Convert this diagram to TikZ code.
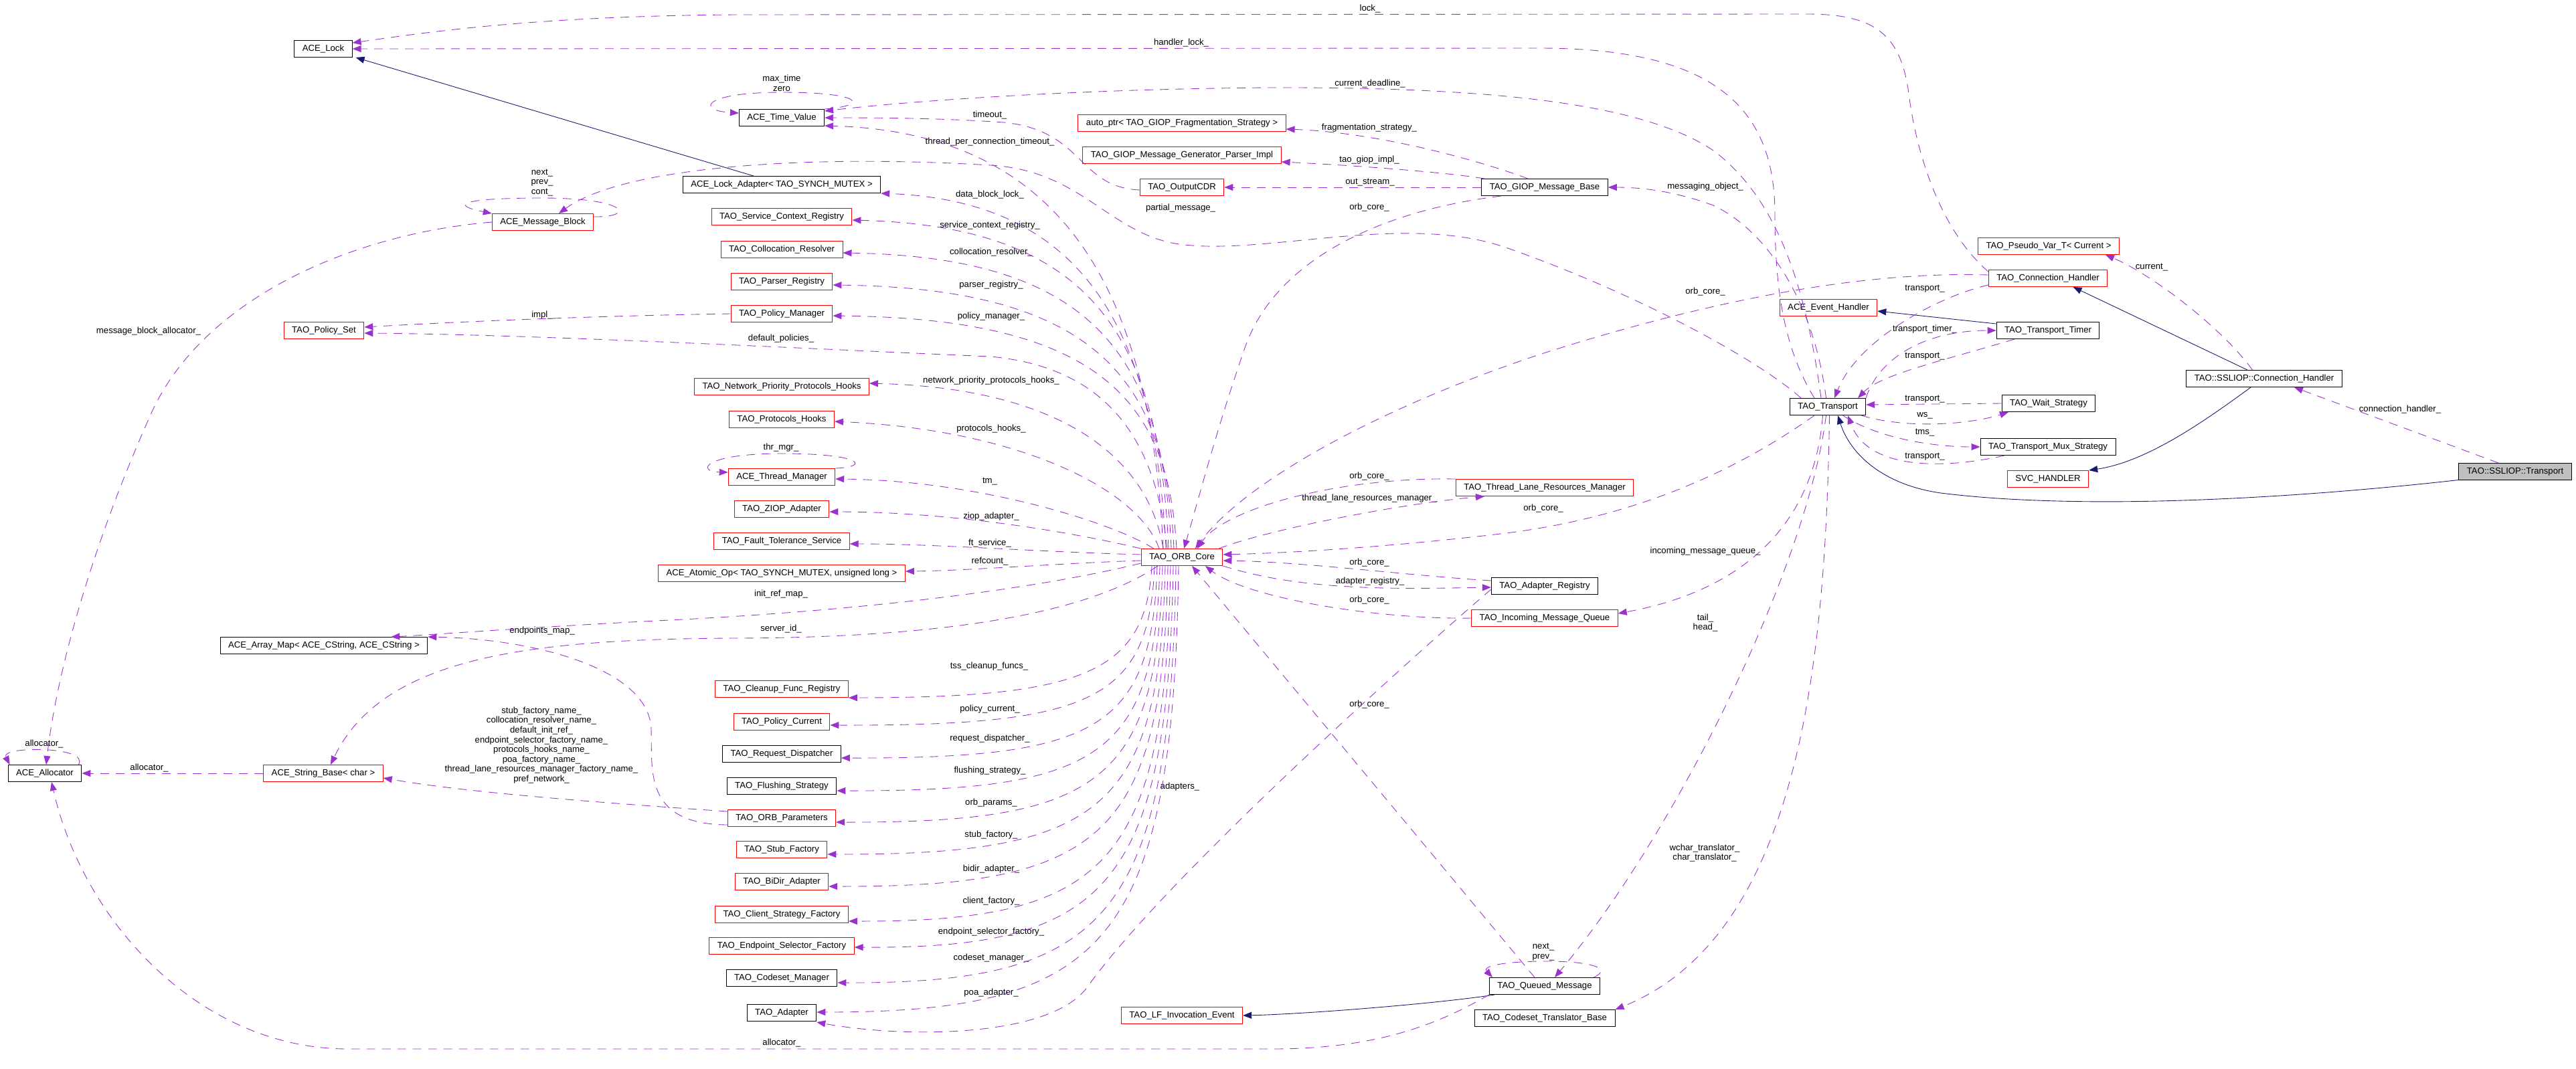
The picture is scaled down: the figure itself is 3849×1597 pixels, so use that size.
\documentclass[tikz,border=0pt]{standalone}
\usepackage{fontspec}
\setmainfont{Liberation Sans}
\usetikzlibrary{arrows.meta}
\definecolor{usec}{HTML}{9A32CD}
\definecolor{inhc}{HTML}{191970}
\definecolor{redb}{HTML}{FF0000}
\definecolor{greyb}{HTML}{BFBFBF}
\newcommand{\dfont}{\fontsize{7.5}{8.3}\selectfont}
\newcommand{\mylbl}[4]{\node[lbl] (#1) at (#2,#3) {#4};}
\begin{document}
\begin{tikzpicture}[x=0.02cm,y=-0.02cm,
  box/.style={draw, line width=0.55pt, minimum height=0.5cm, inner xsep=0.24cm, inner ysep=0pt, font=\dfont, anchor=center},
  rb/.style={box, draw=redb},
  bb/.style={box, draw=black},
  gb/.style={box, draw=black, fill=greyb},
  lbl/.style={font=\dfont, inner sep=0pt, align=center},
  use/.style={draw=usec, line width=0.5pt, dash pattern=on 0.26cm off 0.2cm, -{Triangle[length=0.26cm,width=0.2cm]}},
  inh/.style={draw=inhc, line width=0.5pt, -{Triangle[length=0.26cm,width=0.2cm]}}]
\useasboundingbox (0,0) rectangle (3849,1597);

% ---------------- nodes ----------------
\node[bb] (acelock) at (483,73) {ACE\_Lock};
\node[bb] (timevalue) at (1168,176) {ACE\_Time\_Value};
\node[bb] (lockadapter) at (1168,276) {ACE\_Lock\_Adapter< TAO\_SYNCH\_MUTEX >};
\node[rb] (msgblock) at (811,332) {ACE\_Message\_Block};
\node[rb] (scr) at (1168,324) {TAO\_Service\_Context\_Registry};
\node[rb] (colres) at (1168,373) {TAO\_Collocation\_Resolver};
\node[rb] (parsreg) at (1168,421) {TAO\_Parser\_Registry};
\node[rb] (polman) at (1168,469) {TAO\_Policy\_Manager};
\node[rb] (polset) at (484,494) {TAO\_Policy\_Set};
\node[rb] (nph) at (1168,578) {TAO\_Network\_Priority\_Protocols\_Hooks};
\node[rb] (prothooks) at (1168,627) {TAO\_Protocols\_Hooks};
\node[rb] (thrmgr) at (1168,713) {ACE\_Thread\_Manager};
\node[rb] (ziop) at (1168,761) {TAO\_ZIOP\_Adapter};
\node[rb] (ftsvc) at (1168,809) {TAO\_Fault\_Tolerance\_Service};
\node[rb] (atomicop) at (1168,857) {ACE\_Atomic\_Op< TAO\_SYNCH\_MUTEX, unsigned long >};
\node[rb] (core) at (1766,833) {TAO\_ORB\_Core};
\node[bb] (arraymap) at (484,965) {ACE\_Array\_Map< ACE\_CString, ACE\_CString >};
\node[rb] (cleanup) at (1168,1030) {TAO\_Cleanup\_Func\_Registry};
\node[rb] (polcur) at (1168,1079) {TAO\_Policy\_Current};
\node[bb] (reqdisp) at (1168,1127) {TAO\_Request\_Dispatcher};
\node[bb] (flush) at (1168,1175) {TAO\_Flushing\_Strategy};
\node[rb] (orbparams) at (1168,1223) {TAO\_ORB\_Parameters};
\node[rb] (stubfac) at (1168,1270) {TAO\_Stub\_Factory};
\node[rb] (bidir) at (1168,1318) {TAO\_BiDir\_Adapter};
\node[rb] (clientfac) at (1168,1367) {TAO\_Client\_Strategy\_Factory};
\node[rb] (epsel) at (1168,1414) {TAO\_Endpoint\_Selector\_Factory};
\node[bb] (codesetmgr) at (1168,1462) {TAO\_Codeset\_Manager};
\node[bb] (adapter) at (1168,1514) {TAO\_Adapter};
\node[rb] (lfevent) at (1766,1518) {TAO\_LF\_Invocation\_Event};
\node[rb] (strbase) at (483,1156) {ACE\_String\_Base< char >};
\node[bb] (allocator) at (67,1156) {ACE\_Allocator};
\node[rb] (autoptr) at (1766,184) {auto\_ptr< TAO\_GIOP\_Fragmentation\_Strategy >};
\node[rb] (giopimpl) at (1766,232) {TAO\_GIOP\_Message\_Generator\_Parser\_Impl};
\node[rb] (outputcdr) at (1766,280) {TAO\_OutputCDR};
\node[bb] (giopbase) at (2308,280) {TAO\_GIOP\_Message\_Base};
\node[rb] (tlrm) at (2308,729) {TAO\_Thread\_Lane\_Resources\_Manager};
\node[bb] (adreg) at (2308,876) {TAO\_Adapter\_Registry};
\node[rb] (imq) at (2308,924) {TAO\_Incoming\_Message\_Queue};
\node[bb] (queued) at (2308,1474) {TAO\_Queued\_Message};
\node[bb] (codesettr) at (2308,1522) {TAO\_Codeset\_Translator\_Base};
\node[bb] (transport) at (2731,608) {TAO\_Transport};
\node[rb] (evhandler) at (2732,460) {ACE\_Event\_Handler};
\node[rb] (pseudovar) at (3061,368) {TAO\_Pseudo\_Var\_T< Current >};
\node[rb] (connh) at (3060,416) {TAO\_Connection\_Handler};
\node[bb] (timer) at (3060,494) {TAO\_Transport\_Timer};
\node[bb] (waitst) at (3061,603) {TAO\_Wait\_Strategy};
\node[bb] (mux) at (3060,668) {TAO\_Transport\_Mux\_Strategy};
\node[rb] (svc) at (3060,716) {SVC\_HANDLER};
\node[bb] (sslch) at (3383,566) {TAO::SSLIOP::Connection\_Handler};
\node[gb] (ssltr) at (3758,705) {TAO::SSLIOP::Transport};

% ---------------- labels ----------------
\mylbl{la}{2047}{13}{lock\_}
\mylbl{lb}{1765}{64}{handler\_lock\_}
\mylbl{lc}{2047}{125}{current\_deadline\_}
\mylbl{ld}{1168}{124}{max\_time\\zero}
\mylbl{le}{1479}{172}{timeout\_}
\mylbl{lf}{2046}{191}{fragmentation\_strategy\_}
\mylbl{lg}{1479}{212}{thread\_per\_connection\_timeout\_}
\mylbl{lh}{2046}{239}{tao\_giop\_impl\_}
\mylbl{li}{2047}{273}{out\_stream\_}
\mylbl{lj}{810}{273}{next\_\\prev\_\\cont\_}
\mylbl{lk}{2548}{279}{messaging\_object\_}
\mylbl{ll}{1479}{291}{data\_block\_lock\_}
\mylbl{lm}{1764}{311}{partial\_message\_}
\mylbl{ln}{2046}{310}{orb\_core\_}
\mylbl{lo}{1479}{337}{service\_context\_registry\_}
\mylbl{lp}{1481}{377}{collocation\_resolver\_}
\mylbl{lq}{3215}{400}{current\_}
\mylbl{lr}{1481}{426}{parser\_registry\_}
\mylbl{ls}{2548}{436}{orb\_core\_}
\mylbl{lt}{2876}{432}{transport\_}
\mylbl{lu}{810}{471}{impl\_}
\mylbl{lv}{1481}{473}{policy\_manager\_}
\mylbl{lw}{2876}{492}{transport\_timer\_}
\mylbl{lx}{222}{495}{message\_block\_allocator\_}
\mylbl{ly}{1167}{506}{default\_policies\_}
\mylbl{lz}{2876}{533}{transport\_}
\mylbl{ma}{1481}{569}{network\_priority\_protocols\_hooks\_}
\mylbl{mb}{2876}{597}{transport\_}
\mylbl{mc}{3586}{612}{connection\_handler\_}
\mylbl{md}{2876}{621}{ws\_}
\mylbl{me}{1481}{641}{protocols\_hooks\_}
\mylbl{mf}{2876}{647}{tms\_}
\mylbl{mg}{1167}{669}{thr\_mgr\_}
\mylbl{mh}{2876}{683}{transport\_}
\mylbl{mi}{2046}{712}{orb\_core\_}
\mylbl{mj}{1479}{720}{tm\_}
\mylbl{mk}{2046}{745}{thread\_lane\_resources\_manager\_}
\mylbl{ml}{2306}{760}{orb\_core\_}
\mylbl{mm}{1481}{772}{ziop\_adapter\_}
\mylbl{mn}{1479}{812}{ft\_service\_}
\mylbl{mo}{2548}{824}{incoming\_message\_queue\_}
\mylbl{mp}{1479}{839}{refcount\_}
\mylbl{mq}{2046}{841}{orb\_core\_}
\mylbl{mr}{2047}{869}{adapter\_registry\_}
\mylbl{ms}{1167}{888}{init\_ref\_map\_}
\mylbl{mt}{2046}{897}{orb\_core\_}
\mylbl{mu}{2548}{931}{tail\_\\head\_}
\mylbl{mv}{1167}{940}{server\_id\_}
\mylbl{mw}{810}{943}{endpoints\_map\_}
\mylbl{mx}{1478}{996}{tss\_cleanup\_funcs\_}
\mylbl{my}{2046}{1053}{orb\_core\_}
\mylbl{mz}{1479}{1060}{policy\_current\_}
\mylbl{na}{1479}{1104}{request\_dispatcher\_}
\mylbl{nb}{809}{1114}{stub\_factory\_name\_\\collocation\_resolver\_name\_\\default\_init\_ref\_\\endpoint\_selector\_factory\_name\_\\protocols\_hooks\_name\_\\poa\_factory\_name\_\\thread\_lane\_resources\_manager\_factory\_name\_\\pref\_network\_}
\mylbl{nc}{66}{1112}{allocator\_}
\mylbl{nd}{223}{1148}{allocator\_}
\mylbl{ne}{1479}{1152}{flushing\_strategy\_}
\mylbl{nf}{1763}{1176}{adapters\_}
\mylbl{ng}{1481}{1200}{orb\_params\_}
\mylbl{nh}{1481}{1248}{stub\_factory\_}
\mylbl{ni}{2547}{1275}{wchar\_translator\_\\char\_translator\_}
\mylbl{nj}{1481}{1299}{bidir\_adapter\_}
\mylbl{nk}{1481}{1347}{client\_factory\_}
\mylbl{nl}{1481}{1393}{endpoint\_selector\_factory\_}
\mylbl{nm}{2306}{1423}{next\_\\prev\_}
\mylbl{nn}{1481}{1432}{codeset\_manager\_}
\mylbl{no}{1481}{1484}{poa\_adapter\_}
\mylbl{np}{1168}{1559}{allocator\_}

% ---------------- inheritance ----------------
\draw[inh] ([xshift=-0.84cm]lockadapter.north) -- ([xshift=0.1cm]acelock.south east);
\draw[inh] ([xshift=-1.5cm]queued.south) .. controls (2150,1500) and (1950,1516) .. (lfevent.east);
\draw[inh] ([yshift=0.2cm]timer.west) -- ([yshift=-0.1cm]evhandler.east);
\draw[inh] ([xshift=-0.5cm]sslch.north) -- ([xshift=0.75cm]connh.south);
\draw[inh] ([xshift=-0.4cm]sslch.south) .. controls (3300,625) and (3210,690) .. (svc.north east);
\draw[inh] ([yshift=-0.25cm]ssltr.west) .. controls (3400,748) and (3100,762) .. (2900,737) .. controls (2815,725) and (2765,680) .. ([xshift=0.3cm]transport.south);

% ---------------- usage: top area ----------------
\draw[use] ([yshift=0.2cm]connh.west) .. controls (2895,340) and (2862,220) .. (2852,140) .. controls (2840,50) and (2800,21) .. (2700,21) -- (1100,22) .. controls (800,24) and (640,48) .. ([yshift=0.18cm]acelock.east);
\draw[use] ([xshift=-0.4cm]transport.north) .. controls (2665,520) and (2652,430) .. (2652,320) .. controls (2652,160) and (2560,72) .. (2300,72) -- (acelock.east);
\draw[use] ([xshift=-0.2cm]transport.north) .. controls (2700,440) and (2660,300) .. (2560,225) .. controls (2460,158) and (2250,130) .. (1900,131) .. controls (1600,133) and (1350,152) .. ([yshift=0.2cm]timevalue.east);
\draw[use] ([xshift=-0.05cm]transport.north) .. controls (2710,450) and (2640,345) .. (2560,307) .. controls (2500,285) and (2450,280) .. (giopbase.east);
\draw[use] ([xshift=-0.8cm]transport.north) .. controls (2630,540) and (2450,440) .. (2250,370) .. controls (2100,318) and (1900,380) .. (1770,366) .. controls (1660,355) and (1620,255) .. (1480,247) .. controls (1200,230) and (930,250) .. ([xshift=0.48cm]msgblock.north);
\draw[use] ([xshift=-1.3cm]giopbase.south) .. controls (2060,315) and (1905,390) .. (1860,520) .. controls (1815,650) and (1790,750) .. ([xshift=0.06cm]core.north);
\draw[use] (giopbase.west) -- (outputcdr.east);
\draw[use] ([xshift=-0.5cm]giopbase.north) .. controls (2210,240) and (2060,198) .. ([yshift=-0.18cm]autoptr.east);
\draw[use] ([xshift=-1.8cm]giopbase.north) .. controls (2150,256) and (2000,246) .. ([yshift=-0.2cm]giopimpl.east);
\draw[use] ([yshift=-0.08cm]outputcdr.west) .. controls (1610,280) and (1620,195) .. (1500,183) .. controls (1400,176) and (1300,176) .. (timevalue.east);
% self loops
\draw[use] (timevalue.north east) .. controls (1300,158) and (1290,138) .. (1168,138) .. controls (1050,138) and (1040,165) .. ([yshift=-0.12cm]timevalue.north west);
\draw[use] (thrmgr.north east) .. controls (1300,698) and (1290,678) .. (1168,678) .. controls (1050,678) and (1040,705) .. ([yshift=-0.12cm]thrmgr.north west);
\draw[use] ([yshift=-0.1cm]msgblock.north east) .. controls (950,325) and (940,296) .. (810,296) .. controls (690,296) and (670,306) .. (msgblock.north west);
\draw[use] ([xshift=-0.1cm]allocator.north east) .. controls (135,1115) and (0,1115) .. ([xshift=0.06cm]allocator.north west);
\draw[use] ([xshift=-0.2cm]queued.north east) .. controls (2410,1448) and (2380,1436) .. (2300,1437) .. controls (2240,1438) and (2215,1445) .. ([xshift=0.1cm]queued.north west);
% allocator edges
\draw[use] (msgblock.west) .. controls (520,350) and (300,450) .. (225,620) .. controls (140,810) and (85,1000) .. ([xshift=0.04cm]allocator.north);
\draw[use] (strbase.west) -- (allocator.east);
\draw[use] (queued.south west) .. controls (2150,1530) and (2060,1568) .. (1900,1568) -- (520,1568) .. controls (300,1568) and (125,1380) .. ([xshift=0.2cm]allocator.south);
% ORB parameters
\draw[use] ([yshift=0.2cm]orbparams.west) .. controls (900,1200) and (700,1185) .. ([yshift=-0.14cm]strbase.east);
\draw[use] ([yshift=-0.2cm]orbparams.west) .. controls (960,1232) and (975,1150) .. (973,1090) .. controls (970,1000) and (800,955) .. (arraymap.north east);
% policy
\draw[use] (polman.west) .. controls (900,472) and (700,480) .. ([yshift=0.1cm]polset.east);
\draw[use] ([xshift=-0.44cm]core.north) .. controls (1725,640) and (1640,548) .. (1480,533) .. controls (1200,521) and (800,500) .. ([yshift=-0.08cm]polset.east);

% ---------------- ORB_Core -> left column (upper) ----------------
\draw[use] ([xshift=-0.56cm]core.north) .. controls (1720,450) and (1600,198) .. ([yshift=-0.24cm]timevalue.east);
\draw[use] ([xshift=-0.48cm]core.north) .. controls (1725,480) and (1610,300) .. ([yshift=-0.26cm]lockadapter.east);
\draw[use] ([xshift=-0.4cm]core.north) .. controls (1732,490) and (1620,338) .. ([yshift=-0.1cm]scr.east);
\draw[use] ([xshift=-0.32cm]core.north) .. controls (1738,530) and (1630,384) .. ([yshift=-0.1cm]colres.east);
\draw[use] ([xshift=-0.24cm]core.north) .. controls (1742,570) and (1640,431) .. ([yshift=-0.1cm]parsreg.east);
\draw[use] ([xshift=-0.16cm]core.north) .. controls (1746,605) and (1650,476) .. ([yshift=-0.06cm]polman.east);
\draw[use] ([xshift=-0.56cm]core.north) .. controls (1715,680) and (1580,580) .. ([yshift=0.1cm]nph.east);
\draw[use] ([xshift=-0.68cm]core.north) .. controls (1700,730) and (1520,642) .. ([yshift=-0.06cm]prothooks.east);
\draw[use] ([xshift=-0.84cm]core.north) .. controls (1660,780) and (1460,718) .. ([yshift=-0.06cm]thrmgr.east);
\draw[use] (core.north west) .. controls (1600,795) and (1420,765) .. ([yshift=-0.08cm]ziop.east);
\draw[use] ([yshift=0.08cm]core.west) .. controls (1550,825) and (1400,813) .. ([yshift=-0.08cm]ftsvc.east);
\draw[use] ([yshift=-0.1cm]core.west) .. controls (1580,842) and (1450,853) .. ([yshift=0.06cm]atomicop.east);
\draw[use] ([yshift=-0.18cm]core.west) .. controls (1550,880) and (1300,912) .. (1000,927) .. controls (800,937) and (660,948) .. ([xshift=-1.1cm]arraymap.north east);
\draw[use] ([xshift=-0.72cm]core.south) .. controls (1620,920) and (1400,953) .. (1100,954) .. controls (780,955) and (570,985) .. ([xshift=0.22cm]strbase.north);

% ---------------- ORB_Core -> left column (lower) ----------------
\draw[use] ([xshift=-0.9cm]core.south) .. controls (1712,1005) and (1620,1043) .. ([yshift=-0.26cm]cleanup.east);
\draw[use] ([xshift=-0.82cm]core.south) .. controls (1717,1048) and (1630,1085) .. ([yshift=-0.1cm]polcur.east);
\draw[use] ([xshift=-0.74cm]core.south) .. controls (1721,1090) and (1640,1134) .. ([yshift=-0.12cm]reqdisp.east);
\draw[use] ([xshift=-0.66cm]core.south) .. controls (1725,1132) and (1640,1183) .. ([yshift=-0.14cm]flush.east);
\draw[use] ([xshift=-0.58cm]core.south) .. controls (1729,1172) and (1640,1230) .. ([yshift=-0.12cm]orbparams.east);
\draw[use] ([xshift=-0.5cm]core.south) .. controls (1733,1212) and (1645,1278) .. ([yshift=-0.14cm]stubfac.east);
\draw[use] ([xshift=-0.42cm]core.south) .. controls (1737,1253) and (1645,1326) .. ([yshift=-0.14cm]bidir.east);
\draw[use] ([xshift=-0.34cm]core.south) .. controls (1741,1297) and (1650,1378) .. ([yshift=-0.2cm]clientfac.east);
\draw[use] ([xshift=-0.26cm]core.south) .. controls (1745,1330) and (1650,1418) .. ([yshift=-0.04cm]epsel.east);
\draw[use] ([xshift=-0.18cm]core.south) .. controls (1749,1376) and (1650,1470) .. ([yshift=-0.14cm]codesetmgr.east);
\draw[use] ([xshift=-0.1cm]core.south) .. controls (1753,1413) and (1650,1513) .. ([yshift=0.02cm]adapter.east);

% ---------------- right side around ORB_Core ----------------
\draw[use] (tlrm.north west) .. controls (2000,713) and (1830,760) .. ([xshift=0.46cm]core.north);
\draw[use] ([xshift=1.1cm]core.north) .. controls (1900,790) and (2100,752) .. ([xshift=-1.8cm]tlrm.south);
\draw[use] ([xshift=-0.4cm]transport.south) .. controls (2600,700) and (2450,772) .. (2250,797) .. controls (2100,815) and (1950,826) .. ([yshift=0.08cm]core.east);
\draw[use] ([yshift=0.16cm]adreg.west) .. controls (2100,860) and (1950,840) .. ([yshift=-0.1cm]core.east);
\draw[use] (core.south east) .. controls (1950,885) and (2100,880) .. ([yshift=-0.04cm]adreg.west);
\draw[use] (imq.west) .. controls (2050,926) and (1860,892) .. ([xshift=0.7cm]core.south);
\draw[use] ([xshift=-0.3cm]queued.north) -- ([xshift=0.3cm]core.south);
\draw[use] ([yshift=-0.1cm]adreg.west) .. controls (2170,930) and (1750,1300) .. (1625,1475) .. controls (1570,1552) and (1350,1552) .. ([yshift=-0.28cm]adapter.east);
\draw[use] ([yshift=0.1cm]connh.west) .. controls (2780,405) and (2550,450) .. (2300,530) .. controls (2060,610) and (1860,720) .. ([xshift=0.4cm]core.north);

% ---------------- TAO_Transport cluster ----------------
\draw[use] ([yshift=-0.2cm]connh.west) .. controls (2890,445) and (2775,510) .. ([xshift=0.2cm]transport.north);
\draw[use] (transport.north east) .. controls (2805,540) and (2870,494) .. (timer.west);
\draw[use] ([xshift=-1.0cm]timer.south) .. controls (2900,540) and (2810,560) .. ([xshift=0.9cm]transport.north);
\draw[use] (waitst.west) -- ([yshift=0.06cm]transport.east);
\draw[use] ([xshift=1.0cm]transport.south) .. controls (2850,642) and (2945,634) .. ([xshift=-1.2cm]waitst.south);
\draw[use] ([xshift=0.45cm]transport.south) .. controls (2800,652) and (2880,668) .. (mux.west);
\draw[use] ([xshift=-1.3cm]mux.south) .. controls (2900,702) and (2790,702) .. ([xshift=0.6cm]transport.south);
\draw[use] ([xshift=-0.15cm]transport.south) .. controls (2712,770) and (2620,880) .. ([yshift=0.14cm]imq.east);
\draw[use] ([xshift=-0.05cm]transport.south) .. controls (2700,850) and (2500,1250) .. ([xshift=0.3cm]queued.north);
\draw[use] ([xshift=0.05cm]transport.south) .. controls (2728,1000) and (2685,1400) .. (codesettr.north east);
\draw[use] ([xshift=-0.35cm]sslch.north) .. controls (3320,490) and (3215,410) .. ([xshift=1.7cm]pseudovar.south);
\draw[use] ([xshift=-0.5cm]ssltr.north) -- ([xshift=0.9cm]sslch.south);
\end{tikzpicture}
\end{document}
